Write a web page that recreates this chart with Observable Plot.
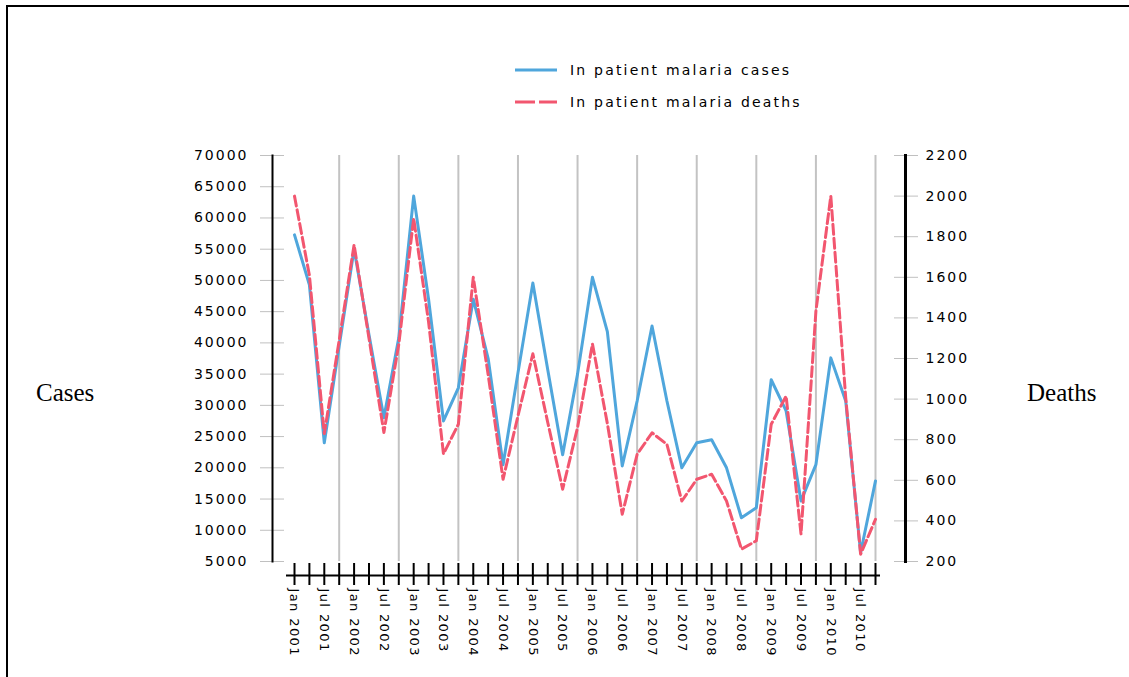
<!DOCTYPE html>
<html>
<head>
<meta charset="utf-8">
<script src="https://cdn.jsdelivr.net/npm/d3@7"></script>
<script src="https://cdn.jsdelivr.net/npm/@observablehq/plot@0.6"></script>
<style>
  html, body { margin: 0; padding: 0; background: #fff; }
  #wrap { position: relative; width: 1129px; height: 677px; overflow: hidden; }
  #border { position: absolute; left: 6px; top: 5px; right: -10px; bottom: -10px; border-top: 2px solid #000; border-left: 2px solid #000; }
  #chart { position: absolute; left: 0; top: 0; }
  .side { position: absolute; font-family: "Liberation Serif", "Times New Roman", serif; font-size: 25px; color: #000; line-height: 1; }
  .legend { position: absolute; left: 515px; font-family: "DejaVu Sans", sans-serif; font-size: 14px; letter-spacing: 2.2px; color: #000; display: flex; align-items: center; }
  .legend svg { margin-right: 13px; }
  #chart [aria-label="y-axis tick label"] text { letter-spacing: 2px; }
  #chart [aria-label="x-axis tick label"] text { letter-spacing: 1.4px; }
</style>
</head>
<body>
<div id="wrap">
  <div id="border"></div>
  <div id="chart"></div>
  <div class="side" id="casesLbl" style="left:36px; top:380px;">Cases</div>
  <div class="side" id="deathsLbl" style="left:1027px; top:380px;">Deaths</div>
  <div class="legend" style="top:62px;"><svg width="42" height="6"><line x1="0" y1="3" x2="42" y2="3" stroke="#4fa6dc" stroke-width="3"/></svg><span>In patient malaria cases</span></div>
  <div class="legend" style="top:94px;"><svg width="42" height="6"><line x1="0" y1="3" x2="42" y2="3" stroke="#f2566f" stroke-width="3" stroke-dasharray="20,4"/></svg><span>In patient malaria deaths</span></div>
</div>
<script>
// Categories
const years = [2001, 2002, 2003, 2004, 2005, 2006, 2007, 2008, 2009, 2010];
const months = ["Jan", "Apr", "Jul", "Oct"];
const quarters = years.flatMap(y => months.map(m => `${m} ${y}`));

// Series values
const cases = [57300, 49300, 24000, 39500, 55000, 41300, 28000, 40800,
               63500, 47000, 27500, 32800, 47000, 37500, 20500, 35200,
               49600, 35700, 22100, 35000, 50500, 41800, 20300, 30700,
               42700, 30700, 20000, 24000, 24500, 20000, 12000, 13600,
               34100, 29100, 14700, 20500, 37600, 30700, 6400, 17900];
const deaths = [2000, 1610, 830, 1290, 1760, 1300, 835, 1270,
                1890, 1380, 730, 876, 1600, 1120, 605, 917,
                1223, 885, 556, 860, 1272, 880, 433, 728,
                834, 777, 498, 605, 630, 498, 261, 302,
                876, 1015, 335, 1433, 2000, 1007, 236, 408];

// Tick labels
const caseTicks = [5000, 10000, 15000, 20000, 25000, 30000, 35000, 40000, 45000, 50000, 55000, 60000, 65000, 70000];
const deathTicks = [200, 400, 600, 800, 1000, 1200, 1400, 1600, 1800, 2000, 2200];
const labelMonths = ["Jan", "Jul"];
const gridMonth = "Oct";

const data = quarters.map((q, i) => ({q, cases: cases[i], deaths: deaths[i]}));
// map deaths axis onto the cases axis
const yDeath = d3.scaleLinear([200, 2200], [5000, 70000]);

const chart = Plot.plot({
  width: 1129,
  height: 677,
  marginLeft: 272,
  marginRight: 224,
  marginTop: 155,
  marginBottom: 116,
  style: {fontFamily: "DejaVu Sans, sans-serif", fontSize: "14px", background: "transparent", color: "#000"},
  x: {type: "point", domain: quarters, padding: 0, insetLeft: 22, insetRight: 30},
  y: {domain: [5000, 70000]},
  marks: [
    Plot.ruleX(quarters.filter(q => q.startsWith(gridMonth)), {stroke: "#c3c3c3", strokeWidth: 2}),
    Plot.axisY(caseTicks, {anchor: "left", label: null, tickSize: 24, dx: 12, tickPadding: 12, stroke: "#c0c0c0", fill: "#000", fontSize: 14, tickFormat: d => String(d)}),
    Plot.axisY(deathTicks.map(d => yDeath(d)), {anchor: "right", label: null, tickSize: 24, dx: -12, tickPadding: 8, stroke: "#c0c0c0", fill: "#000", fontSize: 14, tickFormat: v => String(Math.round(yDeath.invert(v)))}),
    Plot.frame({anchor: "left", stroke: "#000", strokeWidth: 2}),
    Plot.frame({anchor: "right", stroke: "#000", strokeWidth: 3}),
    Plot.ruleY([5000], {dy: 14, insetLeft: 14, insetRight: 25, stroke: "#000", strokeWidth: 2}),
    Plot.axisX(quarters, {anchor: "bottom", label: null, tickSize: 22, dy: 2, tickPadding: 3, tickRotate: 90, stroke: "#000", strokeWidth: 2, fill: "#000", fontSize: 13,
      tickFormat: q => labelMonths.includes(q.slice(0, 3)) ? q : ""}),
    Plot.line(data, {x: "q", y: "cases", stroke: "#4fa6dc", strokeWidth: 3}),
    Plot.line(data, {x: "q", y: d => yDeath(d.deaths), stroke: "#f2566f", strokeWidth: 3, strokeDasharray: "10,4"})
  ]
});
document.getElementById("chart").appendChild(chart);
</script>
</body>
</html>
